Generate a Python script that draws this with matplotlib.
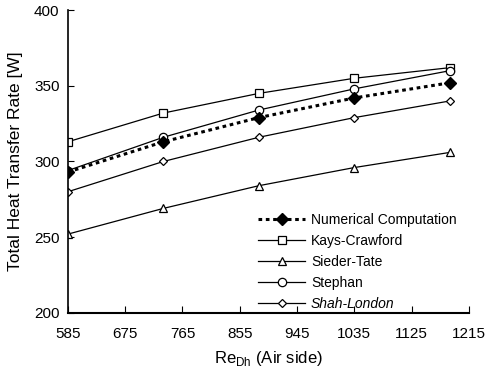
import numpy as np
import matplotlib
matplotlib.use('Agg')
import matplotlib.pyplot as plt

RE_DH = [585, 735, 885, 1035, 1185]

NUMERICAL = [293, 313, 329, 342, 352]
KAYS      = [313, 332, 345, 355, 362]
SIEDER    = [252, 269, 284, 296, 306]
STEPHAN   = [294, 316, 334, 348, 360]
SHAH      = [280, 300, 316, 329, 340]

X_TICKS = [585, 675, 765, 855, 945, 1035, 1125, 1215]
Y_TICKS = [200, 250, 300, 350, 400]

plt.rcParams.update({
    'font.family': ['Liberation Sans', 'DejaVu Sans'],
    'font.size': 11,
})

fig = plt.figure(figsize=(4.88, 3.76), dpi=100)
ax = fig.add_axes([0.139, 0.168, 0.822, 0.805])

ax.plot(RE_DH, NUMERICAL, ls=(0, (1.2, 1.2)), lw=2.2, color='black',
        marker='D', ms=6.5, mfc='black', mec='black', label='Numerical Computation', zorder=5)
ax.plot(RE_DH, KAYS, '-', lw=0.9, color='black', marker='s', ms=6,
        mfc='white', mec='black', mew=0.9, label='Kays-Crawford')
ax.plot(RE_DH, SIEDER, '-', lw=0.9, color='black', marker='^', ms=6,
        mfc='white', mec='black', mew=0.9, label='Sieder-Tate')
ax.plot(RE_DH, STEPHAN, '-', lw=0.9, color='black', marker='o', ms=6,
        mfc='white', mec='black', mew=0.9, label='Stephan')
ax.plot(RE_DH, SHAH, '-', lw=0.9, color='black', marker='D', ms=4.5,
        mfc='white', mec='black', mew=0.9, label='Shah-London')

ax.set_xlim(585, 1215)
ax.set_ylim(200, 400)
ax.set_xticks(X_TICKS)
ax.set_yticks(Y_TICKS)
ax.tick_params(axis='x', direction='in', length=5, pad=10, labelsize=11)
ax.tick_params(axis='y', direction='in', length=4, pad=6, labelsize=11)
ax.spines['top'].set_visible(False)
ax.spines['right'].set_visible(False)
ax.spines['left'].set_linewidth(1.2)
ax.spines['bottom'].set_linewidth(1.5)

ax.set_xlabel(r'Re$_{\mathregular{Dh}}$ (Air side)', fontsize=12, labelpad=6)
ax.set_ylabel('Total Heat Transfer Rate [W]', fontsize=12.5, labelpad=8)

leg = ax.legend(loc='lower right', bbox_to_anchor=(1.0, -0.035), frameon=False,
                fontsize=10, handlelength=3.4, handletextpad=0.4, labelspacing=0.5)
leg.get_texts()[4].set_fontstyle('italic')

fig.savefig('out.png', dpi=100)
plt.close(fig)
